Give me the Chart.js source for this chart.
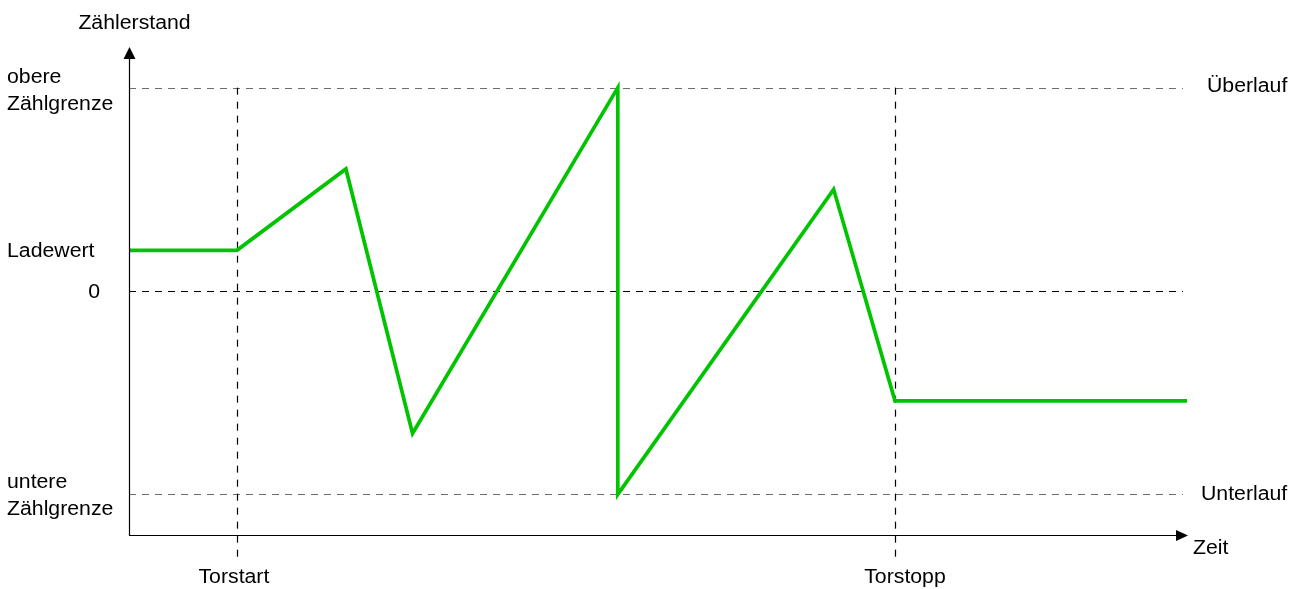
<!DOCTYPE html>
<html>
<head>
<meta charset="utf-8">
<script src="https://cdn.jsdelivr.net/npm/chart.js@4.4.1/dist/chart.umd.min.js"></script>
<style>
  html, body { margin: 0; padding: 0; background: #fff; }
  #wrap { width: 1303px; height: 589px; position: relative; }
</style>
</head>
<body>
<div id="wrap"><canvas id="c"></canvas></div>
<script>
// ---- data ----
const timePoints    = [0, 10.2, 20.5, 26.8, 46.2, 46.2, 66.6, 72.4, 100];
const counterValues = [20, 20, 60, -70, 100, -100, 50, -54, -54];

const upperLimit = 100;   // obere Zählgrenze / Überlauf
const zeroLevel  = 0;
const lowerLimit = -100;  // untere Zählgrenze / Unterlauf
const loadValue  = 20;    // Ladewert

const gateStart = 10.2;   // Torstart
const gateStop  = 72.4;   // Torstopp

const yAxisTitle = 'Zählerstand';
const xAxisTitle = 'Zeit';
const upperLabels = ['obere', 'Zählgrenze'];
const lowerLabels = ['untere', 'Zählgrenze'];
const loadLabel = 'Ladewert';
const zeroLabel = '0';
const overflowLabel = 'Überlauf';
const underflowLabel = 'Unterlauf';
const gateStartLabel = 'Torstart';
const gateStopLabel = 'Torstopp';

const points = timePoints.map((t, i) => ({ x: t, y: counterValues[i] }));

const FONT = '19.5px "Liberation Sans", Arial, sans-serif';
const SX = 1.09;

function txt(ctx, s, x, y, align) {
  ctx.save();
  ctx.font = FONT;
  ctx.fillStyle = '#000';
  ctx.textBaseline = 'alphabetic';
  const w = ctx.measureText(s).width * SX;
  let left = x;
  if (align === 'center') left = x - w / 2;
  else if (align === 'right') left = x - w;
  ctx.translate(left, y);
  ctx.scale(SX, 1);
  ctx.textAlign = 'left';
  ctx.fillText(s, 0, 0);
  ctx.restore();
}

const backgroundPlugin = {
  id: 'bg',
  beforeDatasetsDraw(chart) {
    const ctx = chart.ctx;
    const xs = chart.scales.x, ys = chart.scales.y;
    const x0 = xs.getPixelForValue(xs.min);
    const xEnd = xs.getPixelForValue(xs.max) - 4;
    ctx.save();
    ctx.lineWidth = 1.2;
    ctx.setLineDash([7, 6]);
    // horizontal levels
    [[upperLimit, '#6e6e6e'], [zeroLevel, '#000'], [lowerLimit, '#6e6e6e']].forEach(([v, col]) => {
      const y = Math.round(ys.getPixelForValue(v)) + 0.5;
      ctx.strokeStyle = col;
      ctx.beginPath(); ctx.moveTo(x0, y); ctx.lineTo(xEnd, y); ctx.stroke();
    });
    // vertical gate lines
    const yTop = ys.getPixelForValue(upperLimit);
    const yBot = ys.getPixelForValue(ys.min) + 24;
    ctx.setLineDash([7, 7]);
    [gateStart, gateStop].forEach(t => {
      const x = Math.round(xs.getPixelForValue(t)) + 0.5;
      ctx.strokeStyle = '#000';
      ctx.beginPath(); ctx.moveTo(x, yTop); ctx.lineTo(x, yBot); ctx.stroke();
    });
    ctx.restore();
  },
  afterDatasetsDraw(chart) {
    const ctx = chart.ctx;
    const xs = chart.scales.x, ys = chart.scales.y;
    const ax = Math.round(xs.getPixelForValue(xs.min)) + 0.5;
    const ay = Math.round(ys.getPixelForValue(ys.min)) + 0.5;
    const yTip = ys.getPixelForValue(ys.max);
    const xTip = xs.getPixelForValue(xs.max) + 1;
    ctx.save();
    ctx.setLineDash([]);
    ctx.strokeStyle = '#000';
    ctx.fillStyle = '#000';
    ctx.lineWidth = 1.2;
    ctx.beginPath();
    ctx.moveTo(ax, yTip + 10); ctx.lineTo(ax, ay);
    ctx.lineTo(xTip - 10, ay);
    ctx.stroke();
    // arrows
    ctx.beginPath();
    ctx.moveTo(ax, yTip); ctx.lineTo(ax - 6, yTip + 12); ctx.lineTo(ax + 6, yTip + 12); ctx.closePath(); ctx.fill();
    ctx.beginPath();
    ctx.moveTo(xTip, ay); ctx.lineTo(xTip - 12, ay - 5.5); ctx.lineTo(xTip - 12, ay + 5.5); ctx.closePath(); ctx.fill();
    ctx.restore();

    // labels
    const yU = ys.getPixelForValue(upperLimit);
    const yZ = ys.getPixelForValue(zeroLevel);
    const yL = ys.getPixelForValue(lowerLimit);
    const yLd = ys.getPixelForValue(loadValue);
    txt(ctx, yAxisTitle, ax + 5, 29, 'center');
    txt(ctx, upperLabels[0], 7, yU - 5);
    txt(ctx, upperLabels[1], 7, yU + 22);
    txt(ctx, loadLabel, 7, yLd + 7);
    txt(ctx, zeroLabel, 100, yZ + 7, 'right');
    txt(ctx, lowerLabels[0], 7, yL - 6);
    txt(ctx, lowerLabels[1], 7, yL + 21);
    txt(ctx, overflowLabel, 1207, yU + 4);
    txt(ctx, underflowLabel, 1201, yL + 6);
    txt(ctx, xAxisTitle, 1193, ay + 18);
    txt(ctx, gateStartLabel, xs.getPixelForValue(gateStart) - 3, 583, 'center');
    txt(ctx, gateStopLabel, xs.getPixelForValue(gateStop) + 10, 583, 'center');
  }
};

new Chart(document.getElementById('c'), {
  type: 'scatter',
  data: {
    datasets: [{
      data: points,
      showLine: true,
      borderColor: '#00c400',
      borderWidth: 3.7,
      borderJoinStyle: 'miter',
      pointRadius: 0,
      pointHoverRadius: 0,
      tension: 0,
      fill: false,
      clip: false
    }]
  },
  options: {
    responsive: true,
    maintainAspectRatio: false,
    animation: false,
    events: [],
    layout: { padding: { left: 129, right: 116, top: 47, bottom: 54 } },
    scales: {
      x: { type: 'linear', min: 0, max: 100, display: false },
      y: { type: 'linear', min: -120, max: 120, display: false }
    },
    plugins: { legend: { display: false }, tooltip: { enabled: false } }
  },
  plugins: [backgroundPlugin]
});
</script>
</body>
</html>
